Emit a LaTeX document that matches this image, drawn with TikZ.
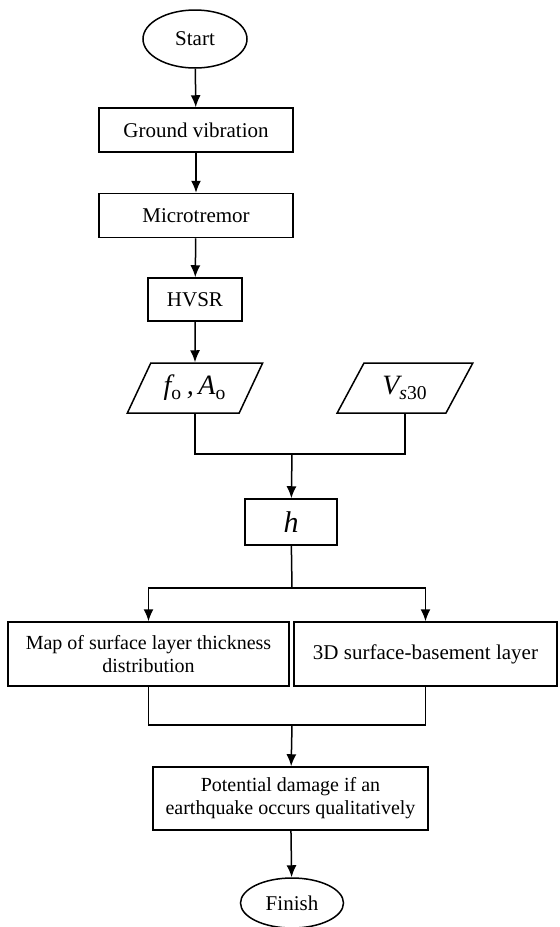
\documentclass[tikz,border=0pt]{standalone}
\usepackage{fontspec}
\setmainfont{Liberation Serif}
\usetikzlibrary{shapes.geometric, arrows.meta, positioning}

\tikzset{
    base/.style={draw, line width=0.75pt, font=\fontsize{10.5}{13}\selectfont, inner sep=0pt},
    terminal/.style={base, ellipse, minimum width=52pt, minimum height=29pt},
    process/.style={base, rectangle, align=center},
    small/.style={font=\fontsize{10}{11.5}\selectfont},
    io/.style={base, trapezium, trapezium left angle=57, trapezium right angle=123,
        trapezium stretches=true, minimum width=68pt, minimum height=25pt,
        font=\fontsize{14}{16}\selectfont\itshape},
    arr/.style={line width=0.75pt, -{Latex[length=6pt, width=5pt]}},
    link/.style={line width=0.75pt},
}

\begin{document}
\begin{tikzpicture}[x=0.5pt, y=-0.5pt]
    \useasboundingbox (0,0) rectangle (560,927);
    % upper column
    \node[terminal] (start) at (195,39) {Start};
    \node[process, minimum width=97pt, minimum height=22pt] (ground) at (196,130) {Ground vibration};
    \node[process, minimum width=97pt, minimum height=22pt] (micro) at (196,215.5) {Microtremor};
    \node[process, minimum width=47pt, minimum height=21.5pt] (hvsr) at (195,299.5) {HVSR};
    \node[io] (fa) at (195,388) {f\textsubscript{\upshape o}\,,\,A\textsubscript{\upshape o}};
    \node[io] (vs) at (405,388) {V\textsubscript{s\upshape 30}};
    \coordinate (j1) at (292,454);
    \node[process, minimum width=46pt, minimum height=23pt, font=\fontsize{15}{16}\selectfont\itshape] (h) at (291,522) {h};
    \coordinate (j2) at (292,588);
    % two outputs
    \node[process, small, minimum width=140.5pt, minimum height=32pt] (thick) at (148.5,654) {Map of surface layer thickness\\distribution};
    \node[process, minimum width=131.5pt, minimum height=32pt] (layer) at (425.5,654) {3D surface-basement layer};
    \coordinate (j3) at (292,725);
    \node[process, small, minimum width=137.5pt, minimum height=31.5pt] (damage) at (290.5,798.5) {Potential damage if an\\earthquake occurs qualitatively};
    \node[terminal, minimum width=51.5pt, minimum height=25pt] (finish) at (292,903) {Finish};

    \draw[arr] (start) -- (ground);
    \draw[arr] (ground) -- (micro);
    \draw[arr] (micro) -- (hvsr);
    \draw[arr] (hvsr) -- (fa);
    \draw[link] (fa.south) |- (j1) -| (vs.south);
    \draw[arr] (j1) -- (h);
    \draw[link] (h) -- (j2);
    \draw[arr] (j2) -| (thick.north);
    \draw[arr] (j2) -| (layer.north);
    \draw[link] (thick.south) |- (j3) -| (layer.south);
    \draw[arr] (j3) -- (damage);
    \draw[arr] (damage) -- (finish);
\end{tikzpicture}
\end{document}
